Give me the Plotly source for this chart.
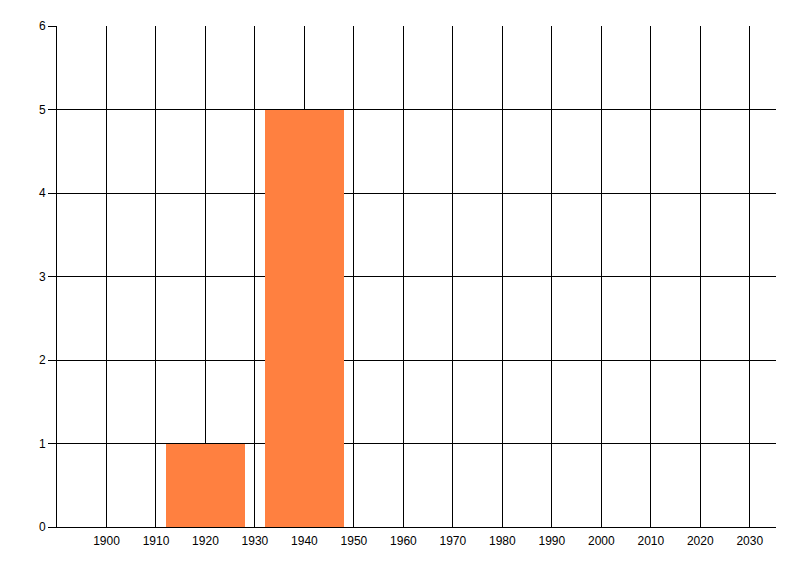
import plotly.graph_objects as go

years = [1920, 1940]
counts = [1, 5]
bar_width = 16
x_ticks = list(range(1900, 2031, 10))
y_ticks = [0, 1, 2, 3, 4, 5, 6]

fig = go.Figure()
fig.add_trace(go.Bar(
    x=years, y=counts, width=[bar_width] * len(years),
    marker=dict(color="#FF8040", line=dict(width=0)),
))

font = dict(family="Liberation Sans, Arial, sans-serif", size=12, color="black")
fig.update_layout(
    width=800, height=576,
    margin=dict(l=49, r=32, t=18, b=57, autoexpand=False),
    paper_bgcolor="white", plot_bgcolor="white",
    showlegend=False,
    font=font,
    bargap=0,
)
fig.update_xaxes(
    range=[1890, 2035.3],
    tickmode="array", tickvals=x_ticks, ticktext=[str(v) for v in x_ticks],
    showgrid=True, gridcolor="black", gridwidth=1,
    showline=True, linecolor="black", linewidth=1,
    ticks="outside", ticklen=3, tickcolor="rgba(0,0,0,0)",
    zeroline=False, tickfont=font,
)
fig.update_yaxes(
    range=[0, 6],
    tickmode="array", tickvals=y_ticks, ticktext=[str(v) for v in y_ticks],
    showgrid=True, gridcolor="black", gridwidth=1,
    showline=True, linecolor="black", linewidth=1,
    ticks="outside", ticklen=8, tickcolor="black", tickwidth=1,
    zeroline=False, tickfont=font,
)
fig.write_html("out.html")
